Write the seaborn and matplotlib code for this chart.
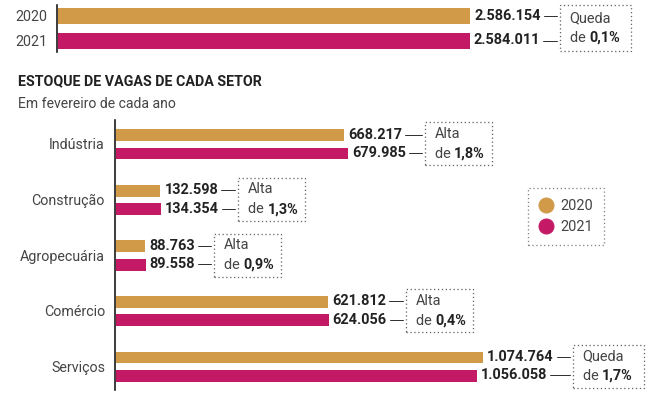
import pandas as pd
import seaborn as sns
import matplotlib.pyplot as plt
from matplotlib.patches import Rectangle
from matplotlib.lines import Line2D

# dados: estoque de vagas em fevereiro
anos = ["2020", "2021"]
total = [2586154, 2584011]
setores = ["Indústria", "Construção", "Agropecuária", "Comércio", "Serviços"]
vagas_2020 = [668217, 132598, 88763, 621812, 1074764]
vagas_2021 = [679985, 134354, 89558, 624056, 1056058]

OURO = "#D09A48"
VINHO = "#C41A65"
CINZA = "#444444"

sns.set_theme(style="white")
plt.rcParams["font.family"] = ["Roboto", "DejaVu Sans"]

W, H = 652, 398
fig = plt.figure(figsize=(W / 72, H / 72), dpi=72)


def rect(x0, y0, x1, y1):
    # pixel box (top-left origin) -> figure fraction
    return [x0 / W, 1 - y1 / H, (x1 - x0) / W, (y1 - y0) / H]


def fmt(v):
    return f"{int(round(v)):,}".replace(",", ".")


def estilo(ax):
    sns.despine(ax=ax, top=True, right=True, bottom=True)
    ax.spines["left"].set_color("#111111")
    ax.spines["left"].set_linewidth(1.6)
    ax.set_xticks([])
    ax.set_xlabel("")
    ax.set_ylabel("")
    ax.tick_params(axis="y", length=0, pad=10, labelsize=14.3, labelcolor=CINZA)


# grafico do total
ax1 = fig.add_axes(rect(57, 5, 652, 52))
df1 = pd.DataFrame({"ano": anos, "vagas": total})
sns.barplot(df1, x="vagas", y="ano", hue="ano", palette=[OURO, VINHO],
            width=0.68, saturation=1, legend=False, ax=ax1)
ax1.set_xlim(0, max(total) * 595 / 413)
ax1.set_ylim(1.46, -0.42)
estilo(ax1)

# grafico por setor
ax2 = fig.add_axes(rect(115, 120, 652, 390))
df2 = pd.DataFrame({"setor": setores * 2,
                    "ano": ["2020"] * len(setores) + ["2021"] * len(setores),
                    "vagas": vagas_2020 + vagas_2021})
sns.barplot(df2, x="vagas", y="setor", hue="ano", palette=[OURO, VINHO],
            width=0.65, gap=0.28, saturation=1, legend=False, ax=ax2)
ax2.set_xlim(0, max(vagas_2020) * 537 / 368)
ax2.set_ylim(4.432, -0.432)
estilo(ax2)
# rotulos dos setores um pouco acima do centro do grupo
for lab in ax2.get_yticklabels():
    lab.set_y(lab.get_position()[1] - 0.04)

fig.text(18 / W, 1 - 81 / H, "ESTOQUE DE VAGAS DE CADA SETOR", fontsize=14.2,
         fontweight="bold", color="#222222", va="center")
fig.text(18 / W, 1 - 104 / H, "Em fevereiro de cada ano", fontsize=14,
         color=CINZA, va="center")

# grupos de barras (2020, 2021)
grupos = []
c1 = ax1.containers
grupos.append((ax1, [c1[0][0], c1[1][0]]))
c2 = ax2.containers
for i in range(len(setores)):
    grupos.append((ax2, [c2[0][i], c2[1][i]]))

rotulos = []
for ax, barras in grupos:
    ts = []
    for b in barras:
        w = b.get_width()
        yc = b.get_y() + b.get_height() / 2
        t = ax.annotate(fmt(w), (w, yc), xytext=(4, 0), textcoords="offset points",
                        va="center", ha="left", fontsize=14.5, fontweight="bold",
                        color="#222222")
        ts.append(t)
    rotulos.append(ts)

fig.canvas.draw()
rend = fig.canvas.get_renderer()
inv = fig.transFigure.inverted()

for (ax, barras), ts in zip(grupos, rotulos):
    a, b = barras
    v0, v1 = a.get_width(), b.get_width()
    var = (v1 - v0) / v0 * 100
    palavra = "Alta" if var > 0 else "Queda"
    pct = f"{abs(var):.1f}%".replace(".", ",")

    ext = [t.get_window_extent(rend) for t in ts]
    xbox = max(e.x1 for e in ext) + 19
    ys = [ax.transData.transform((0, bb.get_y() + bb.get_height() / 2))[1] for bb in barras]
    for e, y in zip(ext, ys):
        p0 = inv.transform((e.x1 + 3, y))
        p1 = inv.transform((xbox - 3, y))
        fig.add_artist(Line2D([p0[0], p1[0]], [p0[1], p1[1]], color="#333333", lw=1))

    cy = sum(ys) / 2
    bw = 71 if palavra == "Queda" else 67
    bh = 46 if ax is ax1 else 43
    q0 = inv.transform((xbox, cy - bh / 2))
    q1 = inv.transform((xbox + bw, cy + bh / 2))
    fig.add_artist(Rectangle(q0, q1[0] - q0[0], q1[1] - q0[1], fill=False,
                             edgecolor="#666666", lw=1.3, linestyle=(0, (1, 2))))
    pa = inv.transform((xbox + 10, cy + 10))
    pb = inv.transform((xbox + 10, cy - 10))
    fig.text(pa[0], pa[1], palavra, fontsize=14.5, color=CINZA, va="center")
    td = fig.text(pb[0], pb[1], "de ", fontsize=14.5, color=CINZA, va="center")
    ed = td.get_window_extent(rend)
    pc = inv.transform((ed.x1, cy - 10))
    fig.text(pc[0], pc[1], pct, fontsize=14.5, color="#222222", fontweight="bold", va="center")

# legenda
alcas = [Line2D([], [], marker="o", ls="", color=c, markersize=15) for c in (OURO, VINHO)]
leg = fig.legend(alcas, anos, loc="upper left", bbox_to_anchor=(528 / W, 1 - 188 / H),
                 borderaxespad=0, frameon=True, fancybox=False, fontsize=14.5,
                 handlelength=1.0, handletextpad=0.5, labelspacing=0.5,
                 borderpad=0.75, labelcolor=CINZA)
fr = leg.get_frame()
fr.set_edgecolor("#666666")
fr.set_linestyle((0, (1, 2)))
fr.set_linewidth(1.3)

fig.savefig("out.png", dpi=72)
